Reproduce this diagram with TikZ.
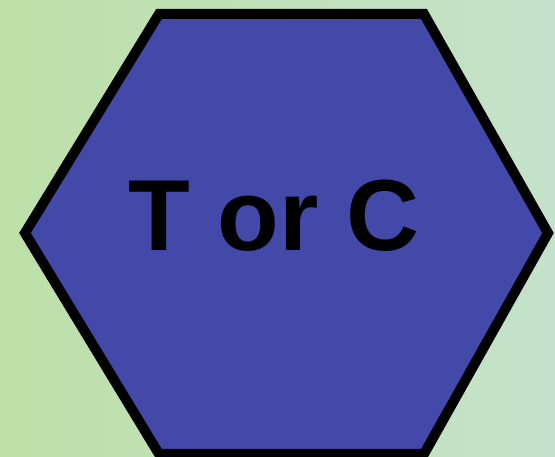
\documentclass[tikz,border=0pt]{standalone}
\usepackage{fontspec}
\setmainfont{Liberation Sans}
\definecolor{bgleft}{RGB}{190,224,168}
\definecolor{bgright}{RGB}{196,226,203}
\definecolor{hexblue}{RGB}{66,73,168}
\tikzset{
  hexshape/.style={draw=black, line width=10pt, fill=hexblue, line join=miter},
  label/.style={font=\fontsize{101}{101}\selectfont\bfseries, text=black, inner sep=0pt, anchor=base}
}
\begin{document}
\begin{tikzpicture}[x=1pt,y=-1pt]
\shade[left color=bgleft, right color=bgright] (0,0) rectangle (555,457);
\useasboundingbox (0,0) rectangle (555,457);
\draw[hexshape] (159,14) -- (424,14) -- (548,233) -- (424,454) -- (159,454) -- (25,233) -- cycle;
\node[label] (t) at (274,251) {T or C};
\end{tikzpicture}
\end{document}
